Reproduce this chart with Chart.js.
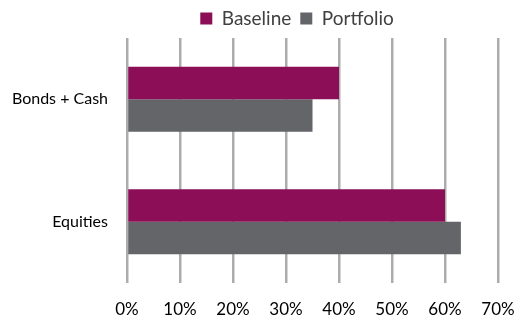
<!DOCTYPE html>
<html>
<head>
<meta charset="utf-8">
<script src="https://cdn.jsdelivr.net/npm/chart.js@4"></script>
<style>
  html, body { margin: 0; padding: 0; background: #fff; }
  #wrap { width: 514px; height: 316px; }
</style>
</head>
<body>
<div id="wrap"><canvas id="barChart"></canvas></div>
<script>
const categories = ['Bonds + Cash', 'Equities'];
const baseline = [40, 60];
const portfolio = [35, 63];
const xTicks = [0, 10, 20, 30, 40, 50, 60, 70];

// legend sits over the plot area, not the whole canvas
const shiftLegend = {
    id: 'shiftLegend',
    afterLayout(chart) {
        chart.legend.left += 48;
        chart.legend.right += 48;
    }
};

document.addEventListener('DOMContentLoaded', (event) => {
    let ctx = document.getElementById('barChart').getContext('2d');
    new Chart(ctx, {
        type: 'bar',
        data: {
            labels: categories,
            datasets: [{
                label: 'Baseline',
                data: baseline,
                backgroundColor: '#8B0E57',
                barPercentage: 1,
                categoryPercentage: 0.53
            }, {
                label: 'Portfolio',
                data: portfolio,
                backgroundColor: '#636569',
                barPercentage: 1,
                categoryPercentage: 0.53
            }]
        },
        plugins: [shiftLegend],
        options: {
            indexAxis: 'y',
            responsive: true,
            maintainAspectRatio: false,
            animation: false,
            layout: { padding: { left: 0, right: 16, top: 0, bottom: 0 } },
            plugins: {
                legend: {
                    position: 'top',
                    labels: {
                        boxWidth: 12,
                        boxHeight: 12,
                        padding: 9,
                        color: '#404040',
                        font: { family: 'Lato', size: 19 }
                    }
                },
                tooltip: { enabled: false }
            },
            scales: {
                x: {
                    min: 0,
                    max: 70,
                    afterBuildTicks: (axis) => {
                        axis.ticks = xTicks.map(v => ({ value: v }));
                    },
                    afterFit: (axis) => {
                        axis.height = 33;
                        axis.paddingLeft = 0;
                        axis.paddingRight = 0;
                    },
                    ticks: {
                        callback: (v) => v + '%',
                        color: '#000',
                        padding: 16,
                        maxRotation: 0,
                        font: { family: 'Lato', size: 17 }
                    },
                    grid: {
                        color: '#acacac',
                        lineWidth: 2.5,
                        drawTicks: false
                    },
                    border: { display: false }
                },
                y: {
                    afterFit: (axis) => { axis.width = 127; },
                    ticks: {
                        color: '#000',
                        padding: 19,
                        font: { family: 'Lato', size: 16 }
                    },
                    grid: { display: false, drawTicks: false },
                    border: { display: false }
                }
            }
        }
    });
});
</script>
</body>
</html>
